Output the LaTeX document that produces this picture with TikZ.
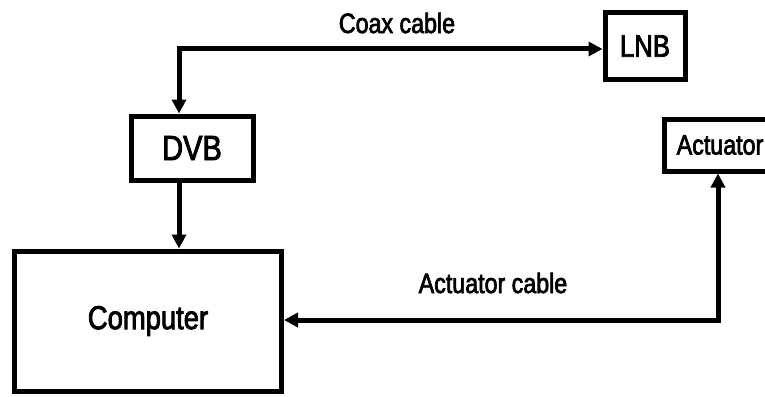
\documentclass[tikz,border=0pt]{standalone}
\usepackage{fontspec}
\setmainfont{Liberation Sans}
\newfontfamily\condfont[FakeStretch=0.83,FakeBold=2.5]{Liberation Sans}
\usetikzlibrary{arrows.meta}
\newcommand{\fsz}[1]{\condfont\fontsize{#1}{#1}\selectfont}
\begin{document}
\begin{tikzpicture}[x=1pt,y=-1pt,
  box/.style={draw,line width=5pt,inner sep=0pt},
  conn/.style={line width=5pt,{Triangle[length=14pt,width=14pt]}-{Triangle[length=14pt,width=14pt]}},
  lbl/.style={font=\fsz{28}}]
\useasboundingbox (0,0) rectangle (765,396);
\node[box,minimum width=80pt,minimum height=66pt,font=\fsz{31}] (lnb) at (645,46) {LNB};
\node[box,minimum width=122pt,minimum height=64pt,font=\fsz{35}] (dvb) at (192,148) {DVB};
\node[box,minimum width=267pt,minimum height=140pt,font=\fsz{33}] (comp) at (148,321) {Computer};
\node[box,minimum width=112pt,minimum height=52pt,font=\fsz{28}] (act) at (720,145) {Actuator};
\coordinate (c1) at (179,49);
\coordinate (c2) at (718,320);
\draw[conn] (dvb.north -| c1) -- (c1) -- (lnb.west |- c1);
\draw[conn] (act.south -| c2) -- (c2) -- (comp.east |- c2);
\draw[line width=5pt,-{Triangle[length=14pt,width=14pt]}] (dvb.south -| c1) -- (comp.north -| c1);
\node[lbl] (coax) at (397,23) {Coax cable};
\node[lbl] (actc) at (493,283) {Actuator cable};
\end{tikzpicture}
\end{document}
